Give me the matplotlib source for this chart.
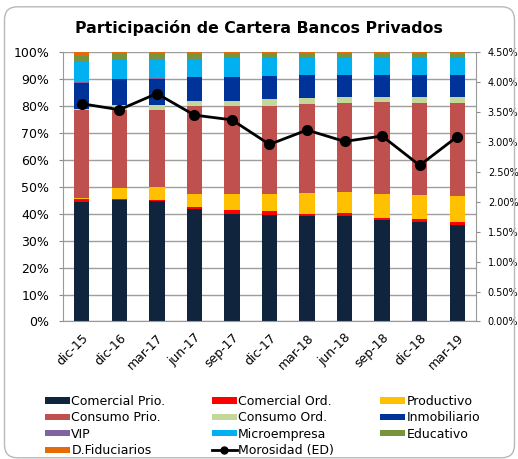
import matplotlib; matplotlib.use("Agg")
import numpy as np, matplotlib.pyplot as plt
from matplotlib.patches import FancyBboxPatch
from matplotlib.lines import Line2D
from matplotlib.ticker import PercentFormatter

periods = ["dic-15", "dic-16", "mar-17", "jun-17", "sep-17", "dic-17",
           "mar-18", "jun-18", "sep-18", "dic-18", "mar-19"]
comercial_prio = [44.5, 45.0, 44.8, 41.9, 40.0, 39.7, 39.2, 39.2, 37.7, 37.1, 35.9]
comercial_ord = [0.9, 0.6, 0.5, 0.7, 1.3, 1.3, 0.8, 1.1, 0.7, 1.0, 1.2]
productivo = [0.5, 3.8, 4.6, 4.9, 6.0, 6.5, 7.8, 7.8, 8.9, 8.8, 9.5]
consumo_prio = [32.8, 29.3, 28.8, 32.5, 32.7, 32.7, 32.9, 33.0, 34.2, 34.2, 34.5]
consumo_ord = [0.3, 1.9, 1.8, 2.0, 2.0, 2.4, 2.2, 2.4, 2.0, 2.4, 2.4]
inmobiliario = [9.7, 9.4, 9.7, 8.8, 8.8, 8.6, 8.7, 8.1, 8.1, 8.1, 8.1]
vip = [0.1, 0.1, 0.1, 0.1, 0.1, 0.1, 0.1, 0.1, 0.1, 0.1, 0.1]
microempresa = [8.0, 7.3, 7.2, 6.6, 7.1, 6.6, 6.3, 6.3, 6.3, 6.3, 6.3]
educativo = [1.8, 2.0, 2.0, 2.0, 1.7, 1.8, 1.5, 1.5, 1.5, 1.5, 1.5]
d_fiduciarios = [1.4, 0.6, 0.5, 0.5, 0.3, 0.3, 0.5, 0.5, 0.5, 0.5, 0.5]
morosidad = [3.64, 3.54, 3.81, 3.45, 3.37, 2.96, 3.20, 3.01, 3.10, 2.61, 3.09]

SERIES = [("Comercial Prio.", comercial_prio, "#10243E"),
          ("Comercial Ord.", comercial_ord, "#FF0000"),
          ("Productivo", productivo, "#FFC000"),
          ("Consumo Prio.", consumo_prio, "#C0504D"),
          ("Consumo Ord.", consumo_ord, "#C4D79B"),
          ("Inmobiliario", inmobiliario, "#003399"),
          ("VIP", vip, "#8064A2"),
          ("Microempresa", microempresa, "#00B0F0"),
          ("Educativo", educativo, "#77933C"),
          ("D.Fiduciarios", d_fiduciarios, "#E36C09")]

fig = plt.figure(figsize=(5.18, 4.59), dpi=100)
ax = fig.add_axes([0.1216, 0.2996, 0.7973, 0.5865])
x = np.arange(len(periods))
bottom = np.zeros(len(periods))
handles = {}
for name, vals, color in SERIES:
    v = np.array(vals)
    handles[name] = ax.bar(x, v, 0.41, bottom=bottom, color=color, zorder=2)
    bottom += v

ax.set_ylim(0, 100); ax.set_xlim(-0.5, len(periods) - 0.5)
ax.set_yticks(np.arange(0, 101, 10))
ax.yaxis.set_major_formatter(PercentFormatter(decimals=0))
ax.grid(axis="y", color="0.62", lw=1, zorder=0)
ax.set_xticks(x); ax.set_xticklabels(periods, rotation=45, ha="right", rotation_mode="anchor", fontsize=9)
ax.tick_params(axis="y", labelsize=9, length=3, pad=7, color="0.55")
ax.tick_params(axis="x", length=0, pad=7)
for s in ["top", "right"]:
    ax.spines[s].set_visible(False)
for s in ["left", "bottom"]:
    ax.spines[s].set_color("0.6")

ax2 = ax.twinx()
ax2.plot(x, morosidad, color="black", lw=2, marker="o", ms=7, zorder=5)
ax2.set_ylim(0, 4.5)
ax2.set_yticks(np.arange(0, 4.51, 0.5))
ax2.yaxis.set_major_formatter(PercentFormatter(decimals=2))
ax2.tick_params(axis="y", labelsize=7, length=3, pad=5.5, color="0.55")
for s in ["top", "left", "bottom"]:
    ax2.spines[s].set_visible(False)
ax2.spines["right"].set_color("0.6")

fig.text(0.5, 0.939, "Participación de Cartera Bancos Privados", ha="center", va="center",
         fontsize=11.3, fontweight="bold")

handles["Morosidad (ED)"] = Line2D([], [], color="black", lw=2, marker="o", ms=5)
order = ["Comercial Prio.", "Consumo Prio.", "VIP", "D.Fiduciarios",
         "Comercial Ord.", "Consumo Ord.", "Microempresa", "Morosidad (ED)",
         "Productivo", "Inmobiliario", "Educativo"]
fig.legend([handles[k] for k in order], order, ncol=3, loc="upper left",
           bbox_to_anchor=(0.0869, 0.1394), frameon=False, fontsize=9,
           borderpad=0, borderaxespad=0,
           handlelength=2.0, handleheight=0.4, handletextpad=0.1,
           columnspacing=3.7, labelspacing=0.27)

fig.patches.append(FancyBboxPatch((0.045, 0.012), 5.10, 4.51, boxstyle="round,pad=0,rounding_size=0.13",
                                  transform=fig.dpi_scale_trans, fill=False, edgecolor="0.72", lw=1))
fig.savefig("out.png", dpi=100)
